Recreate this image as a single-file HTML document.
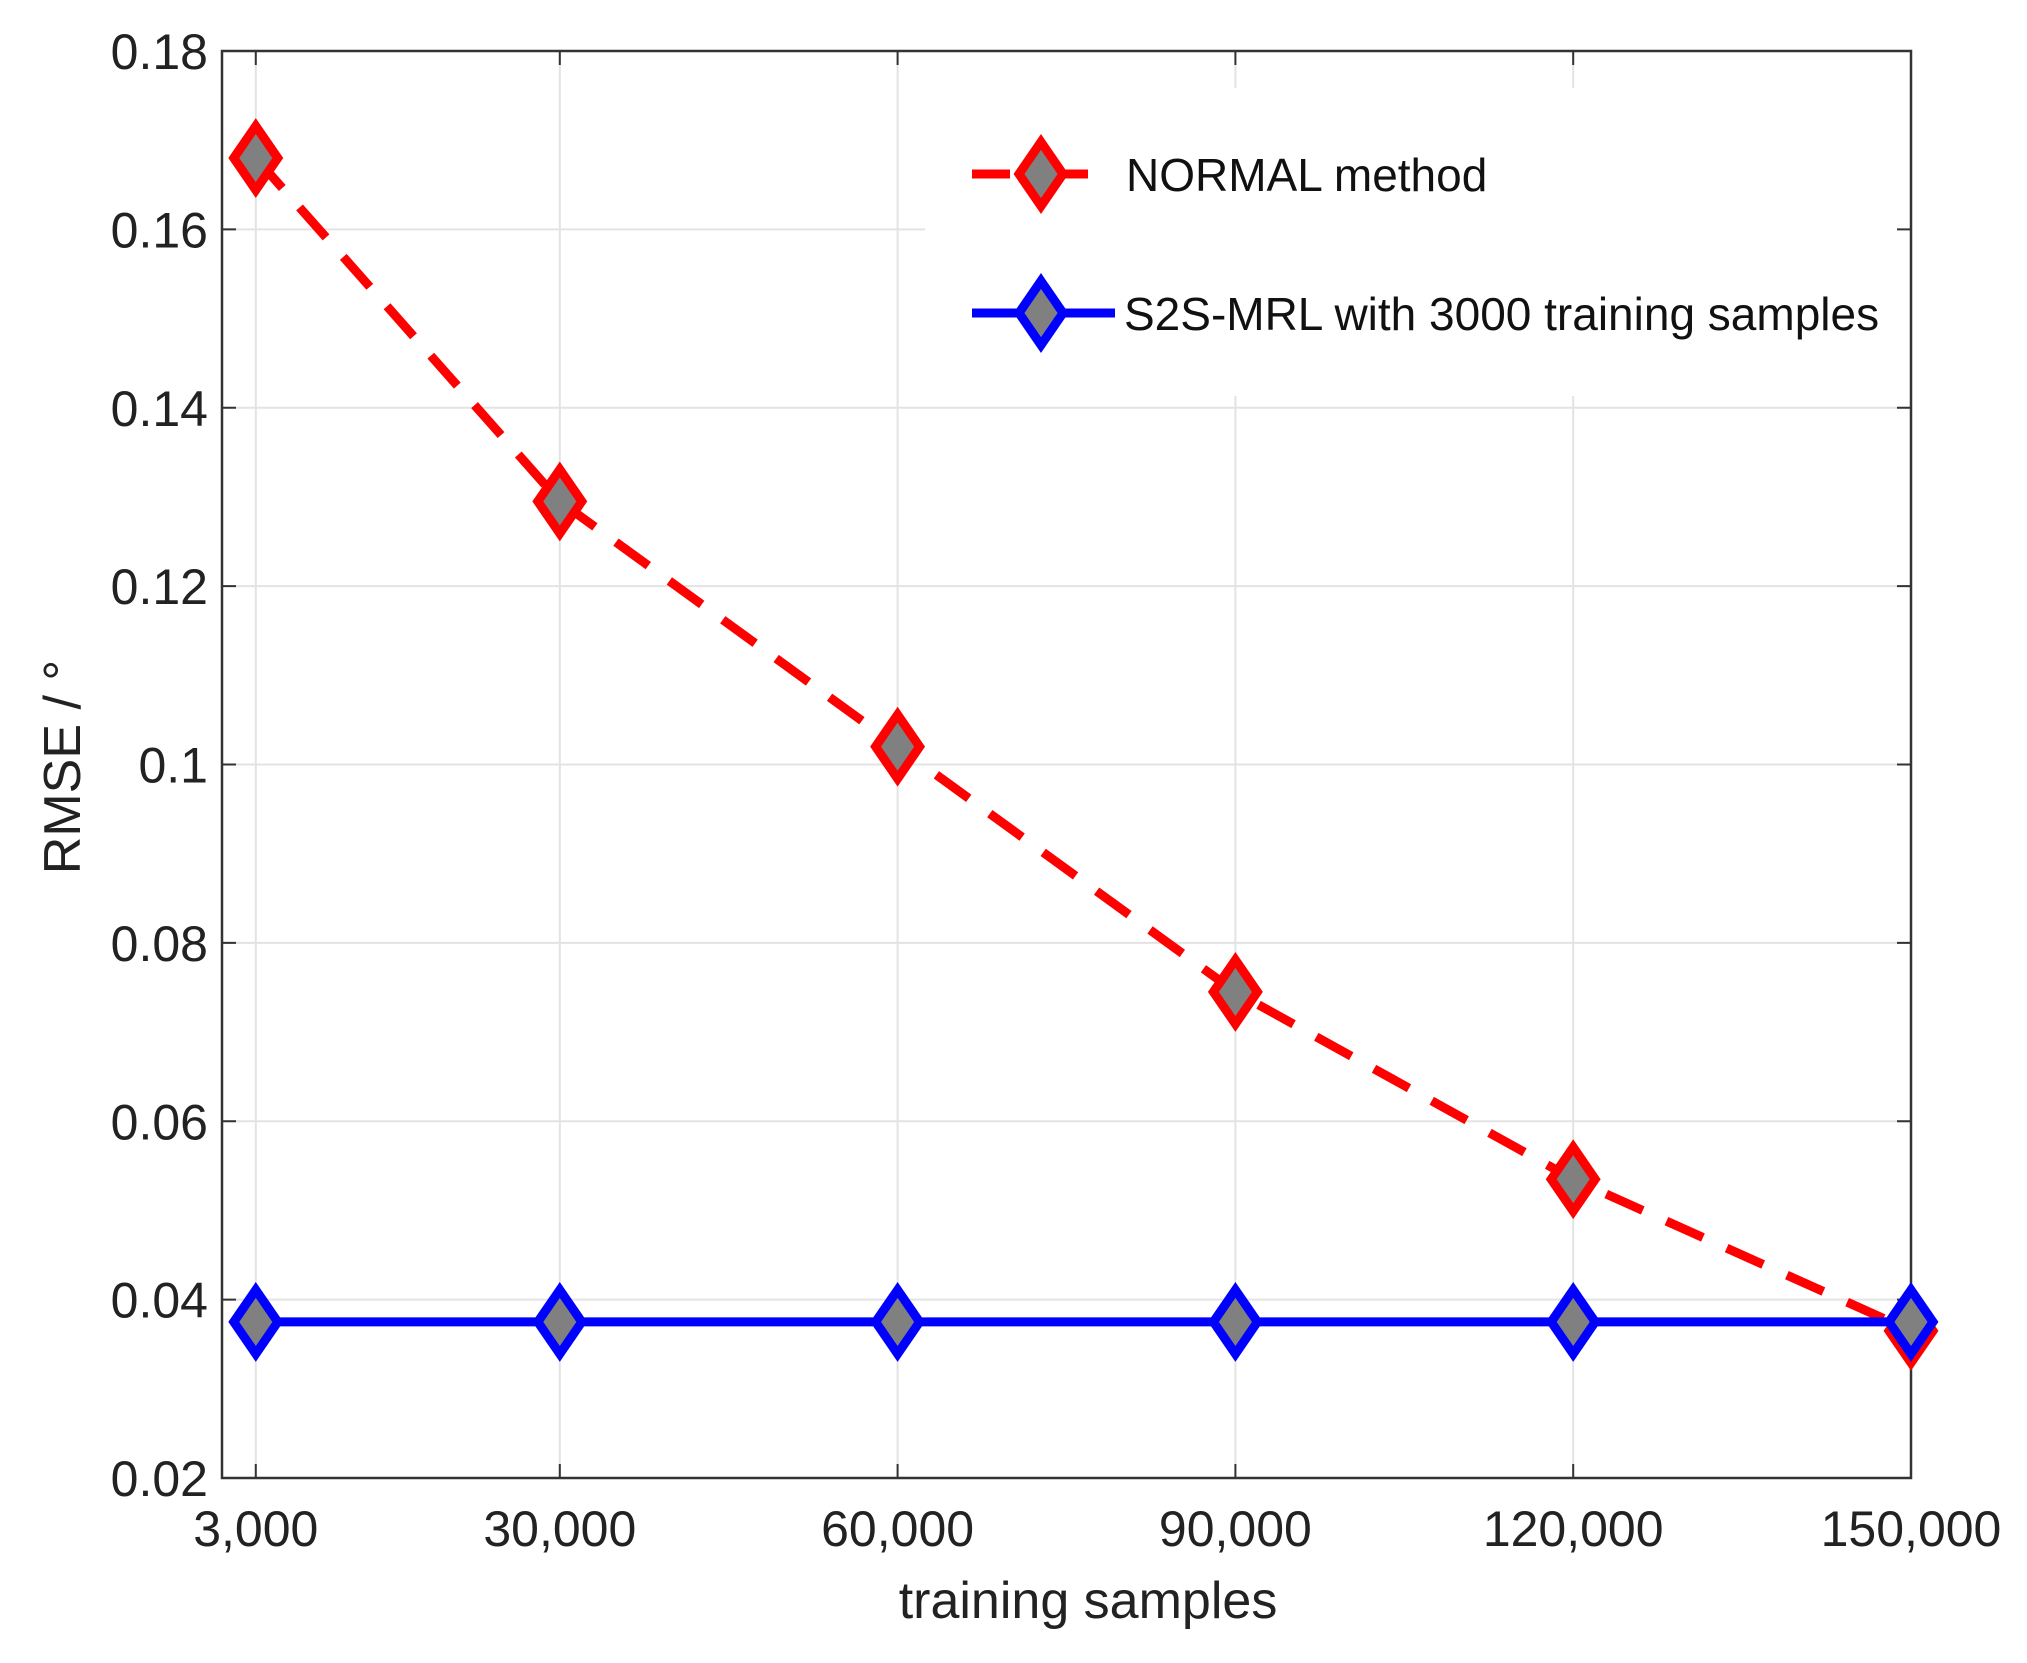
<!DOCTYPE html>
<html><head><meta charset="utf-8"><style>
html,body{margin:0;padding:0;background:#fff;}
svg{display:block;font-family:"Liberation Sans",sans-serif;}
</style></head><body>
<svg id="chart" width="2027" height="1663" viewBox="0 0 2027 1663">
<g id="grid"></g>
<rect x="925" y="88" width="985" height="308" fill="#fff"/>
<g id="axes"></g>
<g id="series"></g>
<g id="legend"></g>
<text x="1088" y="1618" font-size="52" text-anchor="middle" fill="#222">training samples</text>
<text transform="translate(80,767) rotate(-90)" font-size="52" text-anchor="middle" fill="#222">RMSE / °</text>
</svg>
<script>
const xValues = [3000, 30000, 60000, 90000, 120000, 150000];
const xTickLabels = ["3,000", "30,000", "60,000", "90,000", "120,000", "150,000"];
const yTicks = [0.02, 0.04, 0.06, 0.08, 0.1, 0.12, 0.14, 0.16, 0.18];
const yTickLabels = ["0.02", "0.04", "0.06", "0.08", "0.1", "0.12", "0.14", "0.16", "0.18"];
const normalValues = [0.168, 0.1295, 0.102, 0.0745, 0.0535, 0.0365];
const s2sValues = [0.0375, 0.0375, 0.0375, 0.0375, 0.0375, 0.0375];

const L = 222, R = 1911, T = 51, B = 1478;
const X = v => L + (v - 0) / 150000 * (R - L);
const Y = v => B - (v - 0.02) / 0.16 * (B - T);
const NS = "http://www.w3.org/2000/svg";
function mk(tag, attrs, parent) {
  const e = document.createElementNS(NS, tag);
  for (const k in attrs) e.setAttribute(k, attrs[k]);
  parent.appendChild(e);
  return e;
}
const grid = document.getElementById('grid');
const axes = document.getElementById('axes');
const series = document.getElementById('series');
const legend = document.getElementById('legend');

yTicks.forEach((t, i) => {
  const y = Y(t);
  const g = mk('line', {x1: L, x2: R, y1: y, y2: y, stroke: '#e3e3e3', 'stroke-width': 2}, grid);
  
  
  const tk = mk('line', {x1: L, x2: L + 14, y1: y, y2: y, stroke: '#333', 'stroke-width': 2}, axes);
  
  
  const tk2 = mk('line', {x1: R - 14, x2: R, y1: y, y2: y, stroke: '#333', 'stroke-width': 2}, axes);
  
  
  const lb = mk('text', {x: L - 14, y: y + 18, 'font-size': 50, 'text-anchor': 'end', fill: '#222'}, axes);
  lb.textContent = yTickLabels[i];
  
  
});
xValues.forEach((v, i) => {
  const x = X(v);
  const g = mk('line', {x1: x, x2: x, y1: T, y2: B, stroke: '#e3e3e3', 'stroke-width': 2}, grid);
  
  
  const tk = mk('line', {x1: x, x2: x, y1: B - 14, y2: B, stroke: '#333', 'stroke-width': 2}, axes);
  
  
  const tk2 = mk('line', {x1: x, x2: x, y1: T, y2: T + 14, stroke: '#333', 'stroke-width': 2}, axes);
  
  
  const lb = mk('text', {x: x, y: B + 68, 'font-size': 50, 'text-anchor': 'middle', fill: '#222'}, axes);
  lb.textContent = xTickLabels[i];
  
  
});
const frame = mk('rect', {x: L, y: T, width: R - L, height: B - T, fill: 'none', stroke: '#333', 'stroke-width': 2.5}, axes);



function diamond(cx, cy, color, parent, name) {
  const d = mk('polygon', {points: `${cx},${cy-32} ${cx+22},${cy} ${cx},${cy+32} ${cx-22},${cy}`, fill: '#808080', stroke: color, 'stroke-width': 9}, parent);
  
  
}
const nPts = xValues.map((v, i) => X(v) + ',' + Y(normalValues[i])).join(' ');
const nl = mk('polyline', {points: nPts, fill: 'none', stroke: '#ff0000', 'stroke-width': 9, 'stroke-dasharray': '40 26'}, series);


xValues.forEach((v, i) => diamond(X(v), Y(normalValues[i]), '#ff0000', series, 'normal-method-marker'));
const sPts = xValues.map((v, i) => X(v) + ',' + Y(s2sValues[i])).join(' ');
const sl = mk('polyline', {points: sPts, fill: 'none', stroke: '#0000ff', 'stroke-width': 9}, series);


xValues.forEach((v, i) => diamond(X(v), Y(s2sValues[i]), '#0000ff', series, 's2s-mrl-marker'));

// legend
const l1 = mk('line', {x1: 972, x2: 1088, y1: 174, y2: 174, stroke: '#ff0000', 'stroke-width': 9, 'stroke-dasharray': '38 40'}, legend);


diamond(1041, 174, '#ff0000', legend, 'legend-normal-marker');
const t1 = mk('text', {x: 1126, y: 191, 'font-size': 46, fill: '#111'}, legend);
t1.textContent = 'NORMAL method';


const l2 = mk('line', {x1: 972, x2: 1115, y1: 313, y2: 313, stroke: '#0000ff', 'stroke-width': 9}, legend);


diamond(1041, 313, '#0000ff', legend, 'legend-s2s-marker');
const t2 = mk('text', {x: 1124, y: 330, 'font-size': 46, fill: '#111'}, legend);
t2.textContent = 'S2S-MRL with 3000 training samples';


</script>
</body></html>
